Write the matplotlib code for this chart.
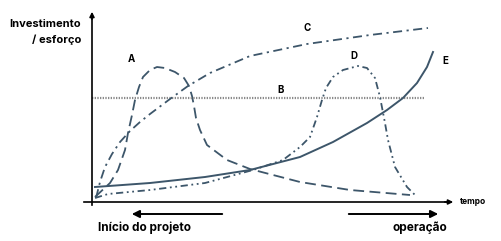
import matplotlib.pyplot as plt

plt.rcParams['font.family'] = ['Inter', 'DejaVu Sans']

# curves: t = time, e = investment / effort
a_t = [3, 18, 26, 33, 36, 40, 43, 47, 51, 58, 65, 73, 83, 92, 97, 100, 102, 104, 108, 115, 135, 158, 208, 258, 318]
a_e = [5, 19, 32, 52, 69, 87, 102, 115, 125, 132, 135, 134, 130, 124, 116, 106, 96, 84, 72, 57, 42, 33, 20, 12, 7]

b_t = [0, 333]
b_e = [104, 104]

c_t = [4, 8, 13, 20, 28, 38, 48, 58, 78, 96, 118, 158, 215, 278, 336]
c_e = [4, 20, 35, 48, 60, 71, 80, 88, 103, 116, 129, 146, 158, 167, 174]

d_t = [3, 16, 58, 113, 161, 191, 208, 218, 225, 230, 234, 241, 251, 266, 275, 283, 288, 293, 296, 303, 315, 325]
d_e = [4, 8, 12, 19, 32, 42, 55, 65, 85, 102, 114, 125, 132, 136, 134, 124, 105, 79, 62, 35, 15, 5]

e_t = [3, 58, 113, 158, 208, 241, 275, 295, 311, 325, 335, 341]
e_e = [15, 19, 25, 32, 45, 60, 79, 92, 104, 119, 135, 150]

labels = ['A', 'B', 'C', 'D', 'E']
label_t = [39, 189, 215, 262, 353]
label_e = [143, 112, 174, 146, 141]

col = '#3d566a'

fig = plt.figure(figsize=(5.02, 2.41), dpi=100)
ax = fig.add_axes([0, 0, 1, 1])
ax.set_xlim(-92, 410)
ax.set_ylim(-39, 202)
ax.axis('off')

ax.plot(a_t, a_e, color=col, lw=1.3, dashes=(6, 3))
ax.plot(b_t, b_e, color='#8a8a8a', lw=1.6, linestyle=(0, (0.6, 0.6)))
ax.plot(c_t, c_e, color=col, lw=1.3, dashes=(5, 2.5, 1.2, 2.5))
ax.plot(d_t, d_e, color=col, lw=1.3, dashes=(4, 2, 1, 2, 1, 2))
ax.plot(e_t, e_e, color=col, lw=1.4)

for lab, t, e in zip(labels, label_t, label_e):
    ax.text(t, e, lab, fontsize=7, fontweight='bold', ha='center', va='center')

# axes with arrows
ax.plot([0, 0], [-3, 186], color='black', lw=1.2)
ax.annotate('', xy=(0, 193), xytext=(0, 180),
            arrowprops=dict(arrowstyle='-|>', color='black', lw=1.2, mutation_scale=7))
ax.plot([-8, 356], [0, 0], color='black', lw=1.2)
ax.annotate('', xy=(364, 0), xytext=(350, 0),
            arrowprops=dict(arrowstyle='-|>', color='black', lw=1.2, mutation_scale=7))

ax.annotate('', xy=(37, -12), xytext=(133, -12),
            arrowprops=dict(arrowstyle='-|>', color='black', lw=1.4, mutation_scale=11))
ax.annotate('', xy=(349, -12), xytext=(254, -12),
            arrowprops=dict(arrowstyle='-|>', color='black', lw=1.4, mutation_scale=11))

ax.text(-11, 178, 'Investimento', fontsize=8, fontweight='bold', ha='right', va='center')
ax.text(-11, 162, '/ esforço', fontsize=8, fontweight='bold', ha='right', va='center')
ax.text(368, 1, 'tempo', fontsize=6, fontweight='bold', ha='left', va='center')
ax.text(53, -26, 'Início do projeto', fontsize=8.5, fontweight='bold', ha='center', va='center')
ax.text(328, -26, 'operação', fontsize=8.5, fontweight='bold', ha='center', va='center')

fig.savefig('out.png', dpi=100)
